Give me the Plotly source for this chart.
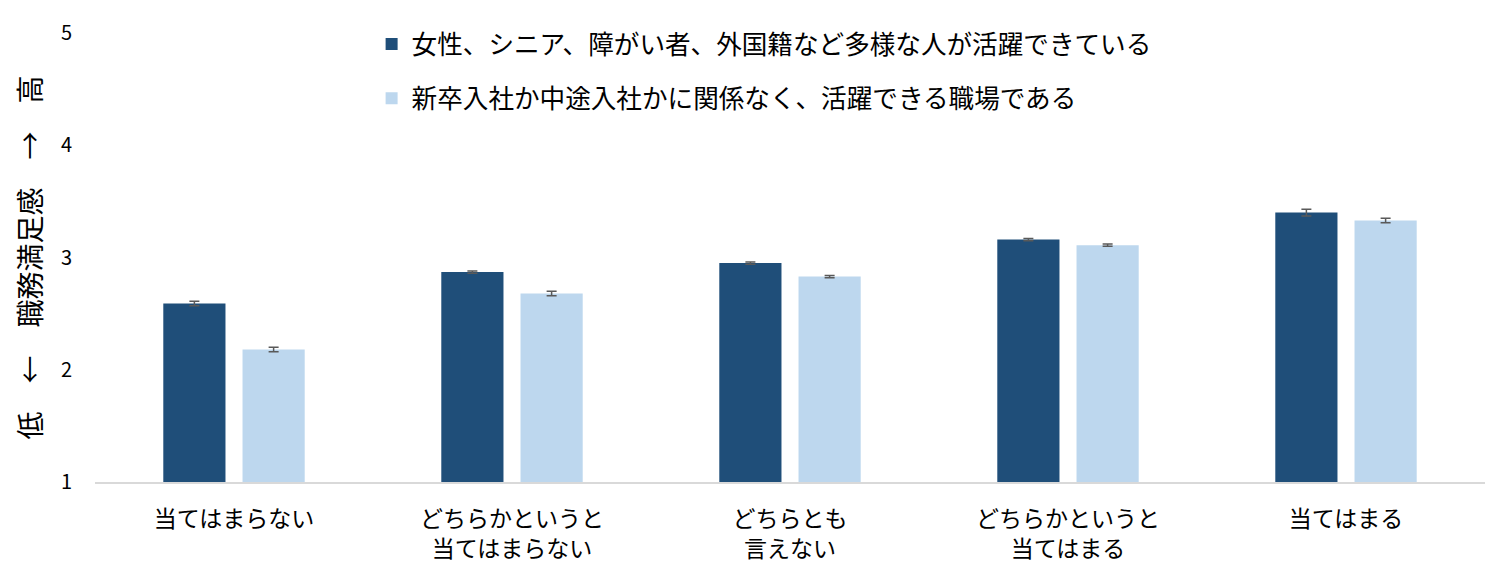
import plotly.graph_objects as go

# categories (x axis)
categories = [
    "当てはまらない",
    "どちらかというと<br>当てはまらない",
    "どちらとも<br>言えない",
    "どちらかというと<br>当てはまる",
    "当てはまる",
]

series_names = [
    "女性、シニア、障がい者、外国籍など多様な人が活躍できている",
    "新卒入社か中途入社かに関係なく、活躍できる職場である",
]

# mean satisfaction per answer
diverse_vals = [2.59, 2.87, 2.95, 3.16, 3.40]
diverse_err = [0.02, 0.01, 0.01, 0.01, 0.03]
hiring_vals = [2.18, 2.68, 2.83, 3.11, 3.33]
hiring_err = [0.02, 0.02, 0.01, 0.01, 0.02]

y_ticks = [1, 2, 3, 4, 5]

FONT = "Noto Sans CJK JP"
DARK = "#1F4E79"
LIGHT = "#BDD7EE"
ERR = "#595959"

fig = go.Figure()
fig.add_trace(go.Bar(
    x=categories, y=diverse_vals, name=series_names[0],
    base=0, marker=dict(color=DARK, line=dict(width=0)),
    error_y=dict(type="data", array=diverse_err, color=ERR, thickness=1.5, width=5),
    legendgroup="a",
))
fig.add_trace(go.Bar(
    x=categories, y=hiring_vals, name=series_names[1],
    base=0, marker=dict(color=LIGHT, line=dict(width=0)),
    error_y=dict(type="data", array=hiring_err, color=ERR, thickness=1.5, width=5),
    legendgroup="b",
))

fig.update_layout(
    width=1500, height=573,
    margin=dict(l=87, r=23, t=25, b=99, autoexpand=False),
    paper_bgcolor="white", plot_bgcolor="white",
    font=dict(family=FONT, color="#000000", size=18),
    barmode="group", bargap=0.43, bargroupgap=0.215,
    legend=dict(
        x=0.199, y=1.027, xanchor="left", yanchor="top",
        font=dict(size=25.6, color="#000000"),
        traceorder="grouped", tracegroupgap=18,
        itemwidth=30, bgcolor="rgba(0,0,0,0)",
    ),
)
fig.update_xaxes(
    showline=True, linecolor="#D9D9D9", linewidth=1.5,
    ticks="", ticklabelstandoff=16,
    tickfont=dict(size=23, color="#000000"),
)
fig.update_yaxes(
    range=[1, 5], tickvals=y_ticks, showgrid=False, zeroline=False,
    showline=False, ticks="", ticklabelstandoff=22,
    tickfont=dict(size=20, color="#000000"),
    title=dict(text="低　←　職務満足感　→　高", font=dict(size=28, color="#000000"), standoff=11),
)

fig.write_html("out.html")
